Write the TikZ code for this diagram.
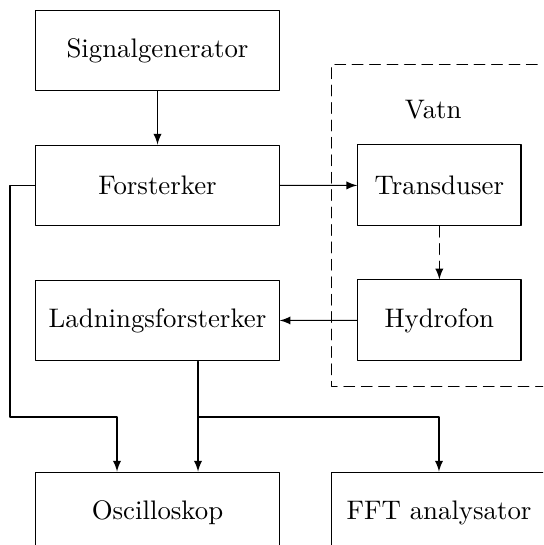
\documentclass[tikz,border=0pt]{standalone}
\usepackage{amsmath,amssymb,amsfonts}
\usepackage{tikz}
\usetikzlibrary{arrows}

\begin{document}
\begin{tikzpicture}[line cap=round,line join=round,>=latex,
        blokk/.style={draw,minimum width=3.19cm,minimum height=1.06cm},
        vatnstrek/.style={dash pattern=on 4pt off 2.5pt}]
        \useasboundingbox (0,0) rectangle (7.119,-7.145);
        \clip (0,0) rectangle (7.119,-7.145);
        \draw [vatnstrek] (7.5,-0.84) -- (4.35,-0.84) -- (4.35,-5.07) -- (7.5,-5.07);
        \node (vatn) at (5.68,-1.44) {Vatn};
        \node[blokk] (sig) at (2.065,-0.662) {Signalgenerator};
        \node[blokk] (forst) at (2.065,-2.432) {Forsterker};
        \node[blokk] (lad) at (2.065,-4.202) {Ladningsforsterker};
        \node[blokk] (osc) at (2.065,-6.719) {Oscilloskop};
        \node[blokk,minimum width=2.83cm] (fft) at (5.755,-6.719) {FFT analysator};
        \node[blokk,minimum width=2.14cm] (trans) at (5.76,-2.43) {Transduser};
        \node[blokk,minimum width=2.14cm] (hyd) at (5.76,-4.2) {Hydrofon};
        \coordinate (knekk) at (0.131,-5.467);
        \draw [->] (sig) -- (forst);
        \draw [->] (forst) -- (trans);
        \draw [->,vatnstrek] (trans) -- (hyd);
        \draw [->] (hyd) -- (lad);
        \draw [->] (forst.west) -| (knekk) -| ([xshift=-0.531cm]osc.north);
        \draw [->] ([xshift=0.531cm]lad.south) -- ([xshift=0.531cm]osc.north);
        \draw [->] ([xshift=0.531cm]lad.south |- knekk) -| (fft.north);
\end{tikzpicture}
\end{document}
